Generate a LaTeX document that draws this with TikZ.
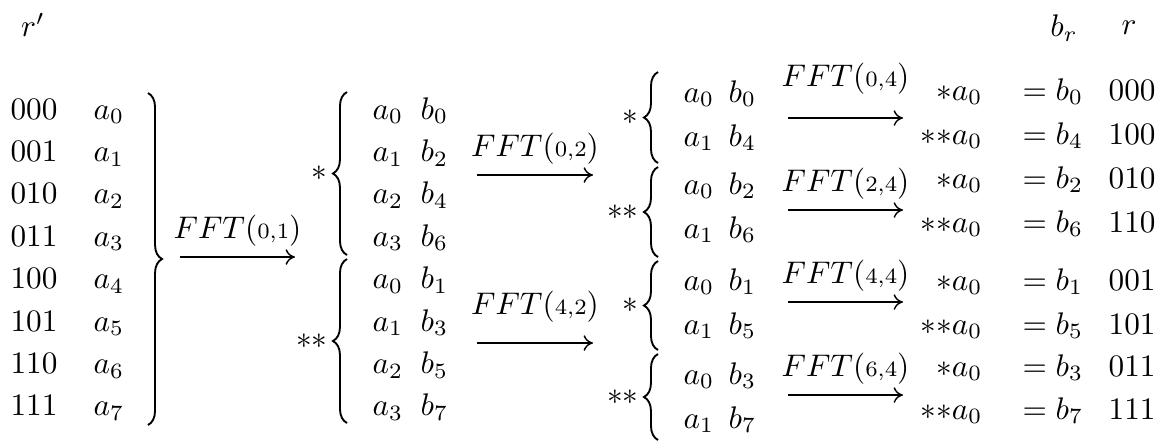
\documentclass[tikz,border=0pt]{standalone}
\usepackage{amsmath}
\usetikzlibrary{positioning,arrows.meta,calc,decorations.pathreplacing}
\newcommand{\fftlbl}[1]{$FFT(\mbox{\scriptsize #1})$}

\begin{document}
\begin{tikzpicture}[x=0.32pt,y=-0.32pt,
    txt/.style={inner sep=0pt,anchor=base west},
    brc/.style={decorate,decoration={brace,amplitude=4.5pt},line width=0.6pt},
    starlbl/.style={inner sep=1pt,anchor=east},
    fftarrow/.style={-{To[length=3pt,width=5pt]},line width=0.45pt}]
  \useasboundingbox (0,0) rectangle (1167,441);
  \node (hrp) at (33,25) {$r'$};
  \node (hbr) at (1064,28) {$b_r$};
  \node (hr) at (1129,28) {$r$};
  % input, bit-reversed index r'
  \foreach \bits [count=\i from 0] in {000,001,010,011,100,101,110,111} {
    \node[txt] (bit\i) at (10,{119+42.4*\i}) {\bits};
    \node[txt] (a\i) at (93,{119+42.4*\i}) {$a_\i$};
  }
  \draw[brc] (148,93) -- (148,425);
  % first stage
  \foreach \k/\j [count=\i from 0] in {0/0,1/2,2/4,3/6,0/1,1/3,2/5,3/7} {
    \node[txt] (pa\i) at (372,{119+42.4*\i}) {$a_\k$};
    \node[txt] (pb\i) at (420,{119+42.4*\i}) {$b_\j$};
  }
  \foreach \ya/\yb/\st [count=\n] in {92/255/*,259/423/**} {
    \draw[brc] (347,\yb) -- (347,\ya);
    \node[starlbl] (s2\n) at (331,{(\ya+\yb)/2}) {${\st}$};
  }
  % second stage
  \foreach \k/\j/\y [count=\i from 0] in
    {0/0/102,1/4/146,0/2/194,1/6/238,0/1/290,1/5/334,0/3/384,1/7/428} {
    \node[txt] (qa\i) at (683,\y) {$a_\k$};
    \node[txt] (qb\i) at (728,\y) {$b_\j$};
  }
  \foreach \ya/\yb/\st [count=\n] in {72/163/*,167/257/**,261/350/*,354/440/**} {
    \draw[brc] (658,\yb) -- (658,\ya);
    \node[starlbl] (s3\n) at (642,{(\ya+\yb)/2}) {${\st}$};
  }
  % output in natural order r
  \foreach \st/\j/\bits/\y [count=\i from 0] in
    {*/0/000/100,**/4/100/144,*/2/010/188,**/6/110/232,
     */1/001/290,**/5/101/334,*/3/011/376,**/7/111/419} {
    \node[inner sep=0pt,anchor=base east] (oa\i) at (983,\y) {${\st}a_0$};
    \node[txt] (ob\i) at (1022,\y) {$=b_\j$};
    \node[txt] (or\i) at (1108,\y) {\bits};
  }
  % transforms
  \coordinate (f1s) at (180,257);
  \coordinate (f1e) at (295,257);
  \draw[fftarrow] (f1s) -- node[above] (l1) {\fftlbl{0,1}} (f1e);
  \foreach \lbl/\y/\dy [count=\n] in {{0,2}/175/0pt,{4,2}/343/3pt} {
    \coordinate (g\n s) at (477,\y);
    \coordinate (g\n e) at (593,\y);
    \draw[fftarrow] (g\n s) -- node[above=\dy] (m\n) {\fftlbl{\lbl}} (g\n e);
  }
  \foreach \lbl/\y/\dy [count=\n] in {{0,4}/118/4pt,{2,4}/210/0pt,{4,4}/302/0pt,{6,4}/395/0pt} {
    \coordinate (h\n s) at (788,\y);
    \coordinate (h\n e) at (903,\y);
    \draw[fftarrow] (h\n s) -- node[above=\dy] (n\n) {\fftlbl{\lbl}} (h\n e);
  }
\end{tikzpicture}
\end{document}
